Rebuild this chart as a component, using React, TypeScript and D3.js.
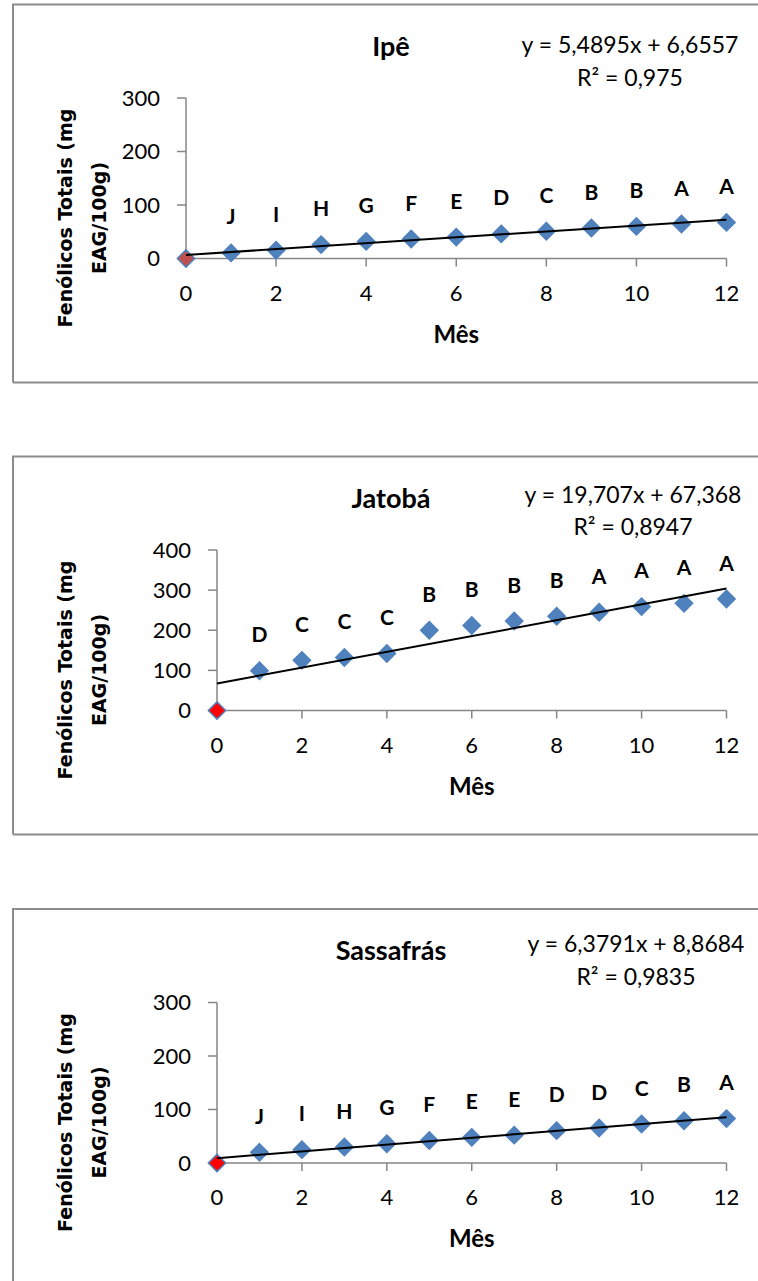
import React from "react";
import * as d3 from "d3";

const months = [0, 1, 2, 3, 4, 5, 6, 7, 8, 9, 10, 11, 12];
const xTicks = [0, 2, 4, 6, 8, 10, 12];

const ipeValues = [0, 10.5, 15.5, 26, 32, 36.5, 40, 46, 51, 57, 60, 64.5, 67.5];
const ipeLetters = ["", "J", "I", "H", "G", "F", "E", "D", "C", "B", "B", "A", "A"];
const ipeYTicks = [0, 100, 200, 300];

const jatobaValues = [0, 99, 125, 132, 142, 200, 212, 223, 235, 245, 259, 267, 278];
const jatobaLetters = ["", "D", "C", "C", "C", "B", "B", "B", "B", "A", "A", "A", "A"];
const jatobaYTicks = [0, 100, 200, 300, 400];

const sassafrasValues = [0, 20, 25, 30, 36, 42, 48, 52, 60.5, 65.5, 73, 79, 83];
const sassafrasLetters = ["", "J", "I", "H", "G", "F", "E", "E", "D", "D", "C", "B", "A"];
const sassafrasYTicks = [0, 100, 200, 300];

const titles = ["Ipê", "Jatobá", "Sassafrás"];
const equations = ["y = 5,4895x + 6,6557", "y = 19,707x + 67,368", "y = 6,3791x + 8,8684"];
const r2Labels = ["R² = 0,975", "R² = 0,8947", "R² = 0,9835"];
const slopes = [5.4895, 19.707, 6.3791];
const intercepts = [6.6557, 67.368, 8.8684];
const firstColors = ["#C0504D", "#FF0000", "#FF0000"];

const xLabel = "Mês";
const yLabel1 = "Fenólicos Totais (mg";
const yLabel2 = "EAG/100g)";

const panels = [
  { values: ipeValues, letters: ipeLetters, yTicks: ipeYTicks, top: 4.5, left: 186, eqY: 40.5, r2Y: 73.5, eqX: 630 },
  { values: jatobaValues, letters: jatobaLetters, yTicks: jatobaYTicks, top: 456.5, left: 217, eqY: 38.5, r2Y: 70.5, eqX: 633 },
  { values: sassafrasValues, letters: sassafrasLetters, yTicks: sassafrasYTicks, top: 909, left: 217, eqY: 35, r2Y: 67.5, eqX: 636 },
];

const FONT = "Lato, 'Open Sans', sans-serif";
const AXIS = "#868686";
const BLUE = "#4F81BD";

function Panel({ idx }: { idx: number }) {
  const p = panels[idx];
  const top = p.top;
  const right = 726.5;
  const x = d3.scaleLinear().domain([0, 12]).range([p.left, right]);
  const yMax = p.yTicks[p.yTicks.length - 1];
  const y = d3.scaleLinear().domain([0, yMax]).range([top + 254, top + 93.5]);
  const diamond = d3.symbol().type(d3.symbolDiamond2).size(190)();
  const line = d3
    .line<number>()
    .x((m) => x(m))
    .y((m) => y(slopes[idx] * m + intercepts[idx]));
  const y0 = y(0);
  const plotCenter = (p.left + right) / 2;
  return (
    <g>
      <path
        d={`M13,${top + 378} L13,${top} L760,${top}` + (idx < 2 ? ` M13,${top + 378} L760,${top + 378}` : "")}
        fill="none"
        stroke="#8C8C8C"
        strokeWidth={2}
      />
      {/* y axis */}
      <line x1={p.left} x2={p.left} y1={y(yMax)} y2={y0} stroke={AXIS} strokeWidth={1.5} />
      {p.yTicks.map((t) => (
        <g key={"yt" + t}>
          <line x1={p.left - 9} x2={p.left} y1={y(t)} y2={y(t)} stroke={AXIS} strokeWidth={1.5} />
          <text x={p.left - 26} y={y(t)} dy="0.36em" textAnchor="end" fontFamily={FONT} fontSize={22} fill="#000">
            {t}
          </text>
        </g>
      ))}
      {/* x axis */}
      <line x1={p.left} x2={right} y1={y0} y2={y0} stroke={AXIS} strokeWidth={1.5} />
      {xTicks.map((t) => (
        <g key={"xt" + t}>
          <line x1={x(t)} x2={x(t)} y1={y0} y2={y0 + 8} stroke={AXIS} strokeWidth={1.5} />
          <text x={x(t)} y={top + 288.5} dy="0.36em" textAnchor="middle" fontFamily={FONT} fontSize={22} fill="#000">
            {t}
          </text>
        </g>
      ))}
      {/* markers */}
      {months.map((m, i) => (
        <path
          key={"m" + m}
          d={diamond}
          transform={`translate(${x(m)},${y(p.values[i])})`}
          fill={i === 0 ? firstColors[idx] : BLUE}
          stroke={BLUE}
          strokeWidth={1.5}
        />
      ))}
      {/* trend line */}
      <path d={line([0, 12]) || ""} fill="none" stroke="#000" strokeWidth={2} />
      {/* letters */}
      {months.map((m, i) =>
        p.letters[i] ? (
          <text
            key={"l" + m}
            x={x(m)}
            y={y(p.values[i]) - 36}
            dy="0.36em"
            textAnchor="middle"
            fontFamily={FONT}
            fontWeight={700}
            fontSize={21}
            fill="#000"
          >
            {p.letters[i]}
          </text>
        ) : null
      )}
      {/* title */}
      <text x={391} y={top + 41.5} dy="0.36em" textAnchor="middle" fontFamily={FONT} fontWeight={700} fontSize={27} fill="#000">
        {titles[idx]}
      </text>
      <text x={p.eqX} y={top + p.eqY} dy="0.36em" textAnchor="middle" fontFamily={FONT} fontSize={23} fill="#000">
        {equations[idx]}
      </text>
      <text x={p.eqX} y={top + p.r2Y} dy="0.36em" textAnchor="middle" fontFamily={FONT} fontSize={23} fill="#000">
        {r2Labels[idx]}
      </text>
      {/* axis titles */}
      <text x={plotCenter} y={top + 329.5} dy="0.36em" textAnchor="middle" fontFamily={FONT} fontWeight={700} fontSize={24} fill="#000">
        {xLabel}
      </text>
      <g transform={`translate(65,${top + 213.5}) rotate(-90)`}>
        <text x={0} y={0} dy="0.36em" textAnchor="middle" fontFamily="'DejaVu Sans', sans-serif" fontWeight={700} fontSize={19} fill="#000">
          {yLabel1}
        </text>
      </g>
      <g transform={`translate(99,${top + 213.5}) rotate(-90)`}>
        <text x={0} y={0} dy="0.36em" textAnchor="middle" fontFamily="'DejaVu Sans', sans-serif" fontWeight={700} fontSize={19} fill="#000">
          {yLabel2}
        </text>
      </g>
    </g>
  );
}

export default function App() {
  return (
    <svg
      width={758}
      height={1281}
      style={{ position: "absolute", left: 0, top: 0, background: "#fff" }}
    >
      <rect x={0} y={0} width={758} height={1281} fill="#fff" />
      {panels.map((_, i) => (
        <Panel key={i} idx={i} />
      ))}
    </svg>
  );
}
